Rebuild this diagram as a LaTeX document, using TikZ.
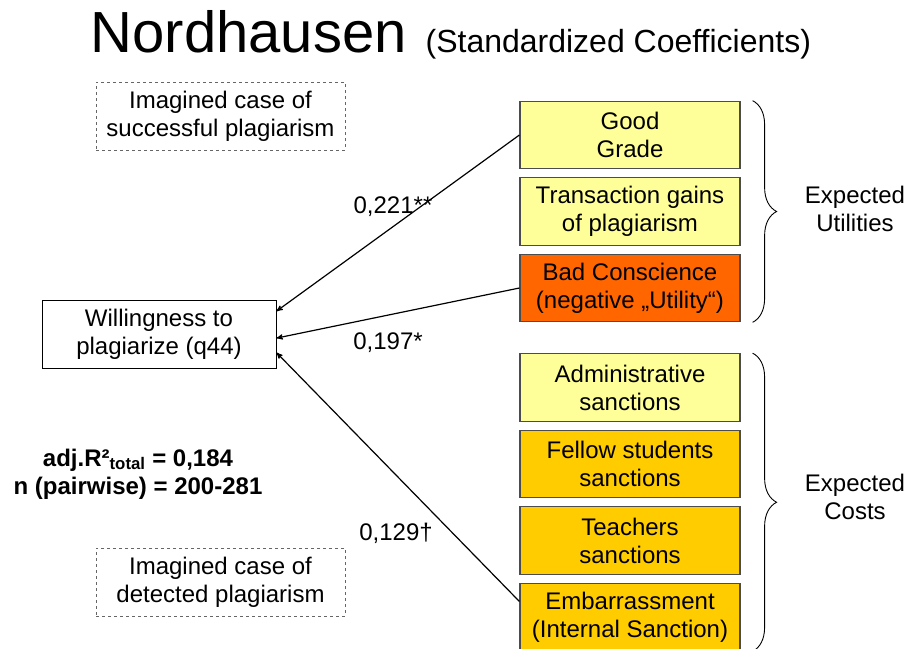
\documentclass[tikz,border=0pt]{standalone}
\usepackage{fontspec}
\setmainfont{Liberation Sans}
\usetikzlibrary{%
  arrows,%
  positioning,% wg. " of "
  decorations.pathreplacing% braces
}

\definecolor{paleyellow}{HTML}{FFFF99}
\definecolor{gold}{HTML}{FFCC00}
\definecolor{burnt}{HTML}{FF6600}

\begin{document}
\begin{tikzpicture}
[x=1pt, y=-1pt, >=stealth', line width=1.2pt, node distance=7.8pt,
font=\fontsize{24}{28}\selectfont,
factor/.style={rectangle, draw=black!70, line width=1.2pt, align=center, minimum width=220pt, minimum height=67.5pt, inner sep=0pt},
gain/.style={factor, fill=paleyellow},
conscience/.style={factor, fill=burnt},
sanction/.style={factor, fill=gold},
target/.style={rectangle, draw=black, line width=1pt, align=center, minimum width=234pt, minimum height=68pt, inner sep=0pt},
scenario/.style={rectangle, draw=black!60, dashed, line width=0.8pt, align=center, minimum width=249pt, minimum height=68pt, inner sep=0pt},
coef/.style={inner sep=0pt},
curly/.style={decorate, decoration={brace, amplitude=24pt}, line width=0.9pt}]

\useasboundingbox (0,0) rectangle (909,648);

% title
\node[anchor=base west, inner sep=0pt] (title) at (90,52) {\fontsize{58}{62}\selectfont Nordhausen};
\node[anchor=base west, inner sep=0pt] (subtitle) at (425,52) {\fontsize{32}{36}\selectfont (Standardized Coefficients)};

% expected utilities
\node[gain] (grade) at (630,135) {Good\\Grade};
\node[gain, below=of grade] (gains) {Transaction gains\\of plagiarism};
\node[conscience, below=of gains] (bad) {Bad Conscience\\(negative „Utility“)};

% expected costs
\node[gain] (admin) at (630,387.5) {Administrative\\sanctions};
\node[sanction, below=of admin] (fellow) {Fellow students\\sanctions};
\node[sanction, below=of fellow] (teacher) {Teachers\\sanctions};
\node[sanction, below=of teacher] (shame) {Embarrassment\\(Internal Sanction)};

\draw[curly] ([xshift=12pt]grade.north east) -- ([xshift=12pt]bad.south east);
\draw[curly] ([xshift=12pt]admin.north east) -- ([xshift=12pt]shame.south east);
\node[align=center] (utilities) at (855,209) {Expected\\Utilities};
\node[align=center] (costs) at (855,497) {Expected\\Costs};

% dependent variable
\node[target] (will) at (159,334) {Willingness to\\plagiarize (q44)};

\node[scenario] (success) at (220.5,116) {Imagined case of\\successful plagiarism};
\node[scenario] (detect) at (220.5,582) {Imagined case of\\detected plagiarism};

\node[align=center, font=\fontsize{24}{28}\selectfont\bfseries] (fit) at (138,474)
  {adj.R²\textsubscript{total} = 0,184\\n (pairwise) = 200-281};

% paths
\draw[->] (grade.west) -- (will.11);
\draw[->] (bad.west) -- (will.-2);
\draw[->] (shame.172) -- (will.-9);

\node[coef] (c1) at (393,207) {0,221**};
\node[coef] (c2) at (388,343) {0,197*};
\node[coef] (c3) at (396,533) {0,129†};

\end{tikzpicture}
\end{document}
